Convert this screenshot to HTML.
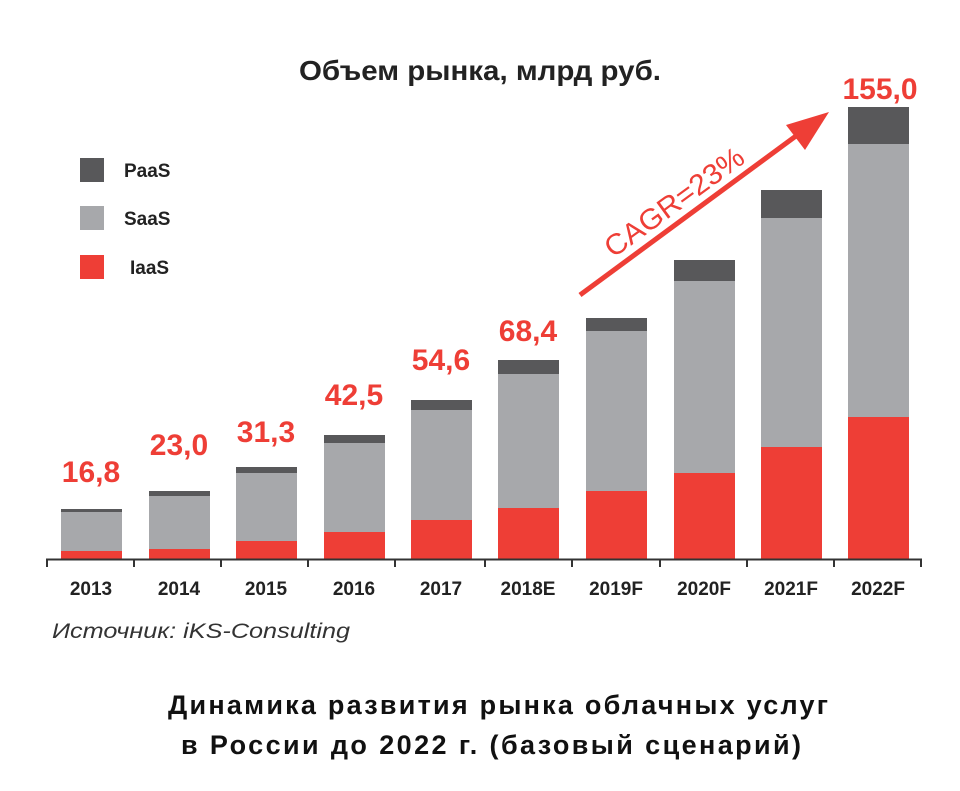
<!DOCTYPE html>
<html><head><meta charset="utf-8"><style>
html,body{margin:0;padding:0;background:#fff;}
svg{display:block;}
text{font-family:"Liberation Sans Narrow","Liberation Sans",sans-serif;}
</style></head><body>
<svg width="960" height="791" viewBox="0 0 960 791" xmlns="http://www.w3.org/2000/svg">
<text x="480" y="80" text-anchor="middle" font-size="28" font-weight="bold" fill="#222" textLength="362" lengthAdjust="spacingAndGlyphs">Объем рынка, млрд руб.</text>
<rect x="80" y="158" width="24" height="24" fill="#58585a"/>
<rect x="80" y="206" width="24" height="24" fill="#a7a8ab"/>
<rect x="80" y="255" width="24" height="24" fill="#ee3e36"/>
<text x="124" y="177" font-size="19" font-weight="bold" fill="#222">PaaS</text>
<text x="124" y="225" font-size="19" font-weight="bold" fill="#222">SaaS</text>
<text x="130" y="274" font-size="19" font-weight="bold" fill="#222">IaaS</text>
<g>
<rect x="61" y="509" width="61" height="50" fill="#58585a"/><rect x="61" y="512" width="61" height="47" fill="#a7a8ab"/><rect x="61" y="551" width="61" height="8" fill="#ee3e36"/>
<rect x="149" y="491" width="61" height="68" fill="#58585a"/><rect x="149" y="496" width="61" height="63" fill="#a7a8ab"/><rect x="149" y="549" width="61" height="10" fill="#ee3e36"/>
<rect x="236" y="467" width="61" height="92" fill="#58585a"/><rect x="236" y="473" width="61" height="86" fill="#a7a8ab"/><rect x="236" y="541" width="61" height="18" fill="#ee3e36"/>
<rect x="324" y="435" width="61" height="124" fill="#58585a"/><rect x="324" y="443" width="61" height="116" fill="#a7a8ab"/><rect x="324" y="532" width="61" height="27" fill="#ee3e36"/>
<rect x="411" y="400" width="61" height="159" fill="#58585a"/><rect x="411" y="410" width="61" height="149" fill="#a7a8ab"/><rect x="411" y="520" width="61" height="39" fill="#ee3e36"/>
<rect x="498" y="360" width="61" height="199" fill="#58585a"/><rect x="498" y="374" width="61" height="185" fill="#a7a8ab"/><rect x="498" y="508" width="61" height="51" fill="#ee3e36"/>
<rect x="586" y="318" width="61" height="241" fill="#58585a"/><rect x="586" y="331" width="61" height="228" fill="#a7a8ab"/><rect x="586" y="491" width="61" height="68" fill="#ee3e36"/>
<rect x="674" y="260" width="61" height="299" fill="#58585a"/><rect x="674" y="281" width="61" height="278" fill="#a7a8ab"/><rect x="674" y="473" width="61" height="86" fill="#ee3e36"/>
<rect x="761" y="190" width="61" height="369" fill="#58585a"/><rect x="761" y="218" width="61" height="341" fill="#a7a8ab"/><rect x="761" y="447" width="61" height="112" fill="#ee3e36"/>
<rect x="848" y="107" width="61" height="452" fill="#58585a"/><rect x="848" y="144" width="61" height="415" fill="#a7a8ab"/><rect x="848" y="417" width="61" height="142" fill="#ee3e36"/>
</g>
<line x1="46" y1="559.5" x2="922" y2="559.5" stroke="#333" stroke-width="2"/>
<g stroke="#333" stroke-width="2">
<line x1="47" y1="559" x2="47" y2="567"/><line x1="134" y1="559" x2="134" y2="567"/><line x1="221" y1="559" x2="221" y2="567"/><line x1="308" y1="559" x2="308" y2="567"/><line x1="395" y1="559" x2="395" y2="567"/><line x1="485" y1="559" x2="485" y2="567"/><line x1="572" y1="559" x2="572" y2="567"/><line x1="660" y1="559" x2="660" y2="567"/><line x1="747" y1="559" x2="747" y2="567"/><line x1="834" y1="559" x2="834" y2="567"/><line x1="921" y1="559" x2="921" y2="567"/>
</g>
<g font-size="19" font-weight="bold" fill="#222" text-anchor="middle">
<text x="91" y="595">2013</text><text x="179" y="595">2014</text><text x="266" y="595">2015</text><text x="354" y="595">2016</text><text x="441" y="595">2017</text><text x="528" y="595">2018E</text><text x="616" y="595">2019F</text><text x="704" y="595">2020F</text><text x="791" y="595">2021F</text><text x="878" y="595">2022F</text>
</g>
<g font-size="30" font-weight="bold" fill="#ee3e36" text-anchor="middle">
<text x="91" y="482">16,8</text><text x="179" y="455">23,0</text><text x="266" y="442">31,3</text><text x="354" y="405">42,5</text><text x="441" y="370">54,6</text><text x="528" y="341">68,4</text><text x="880" y="99">155,0</text>
</g>
<line x1="580" y1="295" x2="800" y2="133" stroke="#ee3e36" stroke-width="5"/>
<polygon points="829,112 786,125 805,150" fill="#ee3e36"/>
<text transform="translate(680,210) rotate(-36)" text-anchor="middle" font-size="29" fill="#ee3e36" style="font-family:'Liberation Sans',sans-serif" textLength="165" lengthAdjust="spacingAndGlyphs">CAGR=23%</text>
<text x="52" y="638" font-size="21" font-style="italic" fill="#333" textLength="298" lengthAdjust="spacingAndGlyphs">Источник: iKS-Consulting</text>
<g font-size="27" font-weight="bold" fill="#111">
<text x="168" y="714" textLength="660" lengthAdjust="spacing">Динамика развития рынка облачных услуг</text>
<text x="181" y="754" textLength="620" lengthAdjust="spacing">в России до 2022 г. (базовый сценарий)</text>
</g>
</svg>
</body></html>
